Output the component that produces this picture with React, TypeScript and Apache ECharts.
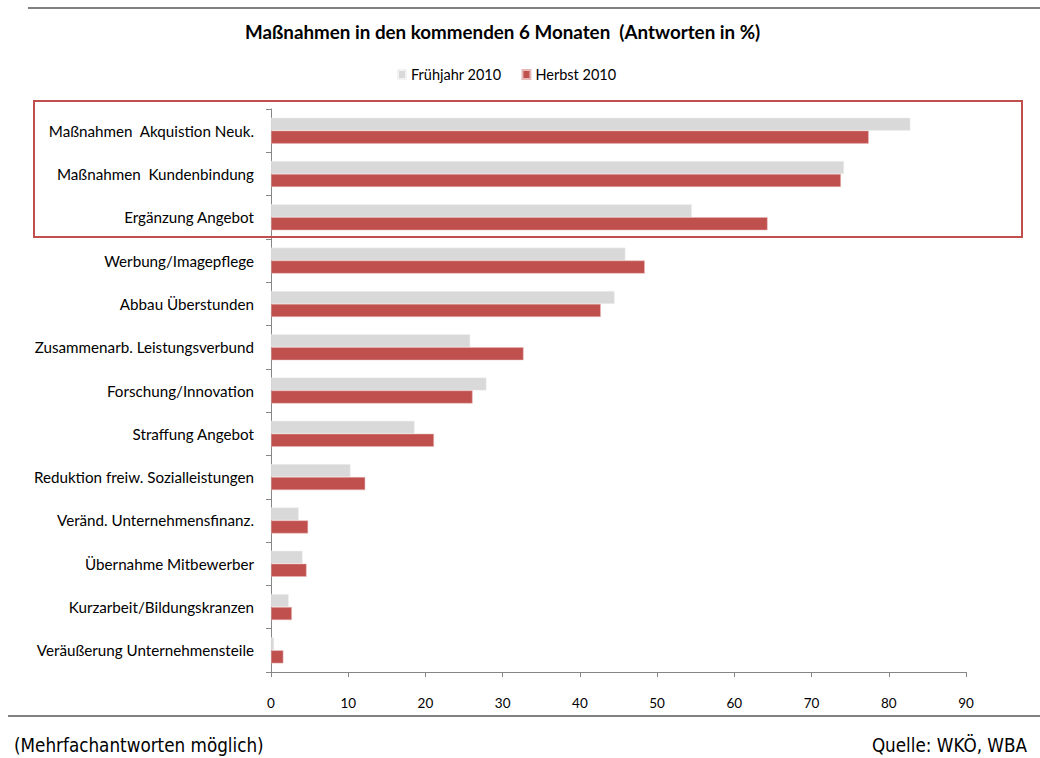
import React, { useEffect, useRef } from "react";
import * as echarts from "echarts";

const categories = [
  "Maßnahmen  Akquistion Neuk.",
  "Maßnahmen  Kundenbindung",
  "Ergänzung Angebot",
  "Werbung/Imagepflege",
  "Abbau Überstunden",
  "Zusammenarb. Leistungsverbund",
  "Forschung/Innovation",
  "Straffung Angebot",
  "Reduktion freiw. Sozialleistungen",
  "Veränd. Unternehmensfinanz.",
  "Übernahme Mitbewerber",
  "Kurzarbeit/Bildungskranzen",
  "Veräußerung Unternehmensteile",
];

const fruehjahr2010 = [82.8, 74.2, 54.5, 45.9, 44.5, 25.8, 27.9, 18.6, 10.3, 3.6, 4.1, 2.3, 0.4];
const herbst2010 = [77.4, 73.8, 64.3, 48.4, 42.7, 32.7, 26.1, 21.1, 12.2, 4.8, 4.6, 2.7, 1.6];

const xTicks = [0, 10, 20, 30, 40, 50, 60, 70, 80, 90];

const titleText = "Maßnahmen in den kommenden 6 Monaten  (Antworten in %)";
const seriesNames = ["Frühjahr 2010", "Herbst 2010"];
const footLeft = "(Mehrfachantworten möglich)";
const footRight = "Quelle: WKÖ, WBA";

export default function App() {
  const ref = useRef<HTMLDivElement>(null);
  useEffect(() => {
    if (!ref.current) return;
    const chart = echarts.init(ref.current, null, { renderer: "svg" });
    const font = "Lato, 'Open Sans', sans-serif";
    const footFont = "'DejaVu Sans Condensed', 'DejaVu Sans', sans-serif";
    chart.setOption({
      animation: false,
      backgroundColor: "#ffffff",
      title: {
        text: titleText,
        left: 240,
        top: 17,
        textStyle: { fontFamily: font, fontSize: 18.8, fontWeight: "bold", color: "#000" },
      },
      legend: {
        left: 392,
        top: 62,
        itemWidth: 8,
        itemHeight: 9,
        itemGap: 20,
        icon: "rect",
        textStyle: { fontFamily: font, fontSize: 14.5, color: "#000" },
        data: seriesNames,
      },
      grid: { left: 271, right: 74, top: 109, bottom: 86, containLabel: false },
      xAxis: {
        type: "value",
        min: 0,
        max: 90,
        interval: 10,
        axisLine: { show: true, lineStyle: { color: "#868686", width: 1 } },
        axisTick: { show: true, length: 5, lineStyle: { color: "#868686" } },
        splitLine: { show: false },
        axisLabel: {
          margin: 24,
          fontFamily: font,
          fontSize: 13.5,
          color: "#000",
          formatter: (v: number) => (xTicks.includes(v) ? String(v) : ""),
        },
      },
      yAxis: {
        type: "category",
        inverse: true,
        data: categories,
        axisLine: { show: true, lineStyle: { color: "#868686", width: 1 } },
        axisTick: { show: true, length: 5, lineStyle: { color: "#868686" } },
        axisLabel: { margin: 17, fontFamily: font, fontSize: 15.2, color: "#000" },
      },
      series: [
        {
          name: seriesNames[0],
          type: "bar",
          data: fruehjahr2010,
          barWidth: 13,
          barGap: "0%",
          itemStyle: { color: "#d9d9d9", borderColor: "#f2f2f2", borderWidth: 0.5 },
        },
        {
          name: seriesNames[1],
          type: "bar",
          data: herbst2010,
          barWidth: 13,
          barGap: "0%",
          itemStyle: { color: "#c0504d", borderColor: "#e6b9b8", borderWidth: 0.5 },
        },
      ],
      graphic: [
        {
          type: "line",
          shape: { x1: 28, y1: 8, x2: 1040, y2: 8 },
          style: { stroke: "#808080", lineWidth: 2 },
        },
        {
          type: "line",
          shape: { x1: 8, y1: 716, x2: 1040, y2: 716 },
          style: { stroke: "#808080", lineWidth: 2 },
        },
        {
          type: "rect",
          z: 100,
          shape: { x: 34, y: 101, width: 988, height: 136 },
          style: { fill: "none", stroke: "#c0504d", lineWidth: 2 },
        },
        {
          type: "text",
          left: 14,
          top: 736,
          style: { text: footLeft, fontFamily: footFont, fontSize: 18.7, fill: "#000" },
        },
        {
          type: "text",
          right: 13,
          top: 736,
          style: { text: footRight, fontFamily: footFont, fontSize: 18.7, fill: "#000" },
        },
      ],
    });
    return () => chart.dispose();
  }, []);
  return (
    <div
      ref={ref}
      style={{ position: "fixed", left: 0, top: 0, width: 1040, height: 758 }}
    />
  );
}
